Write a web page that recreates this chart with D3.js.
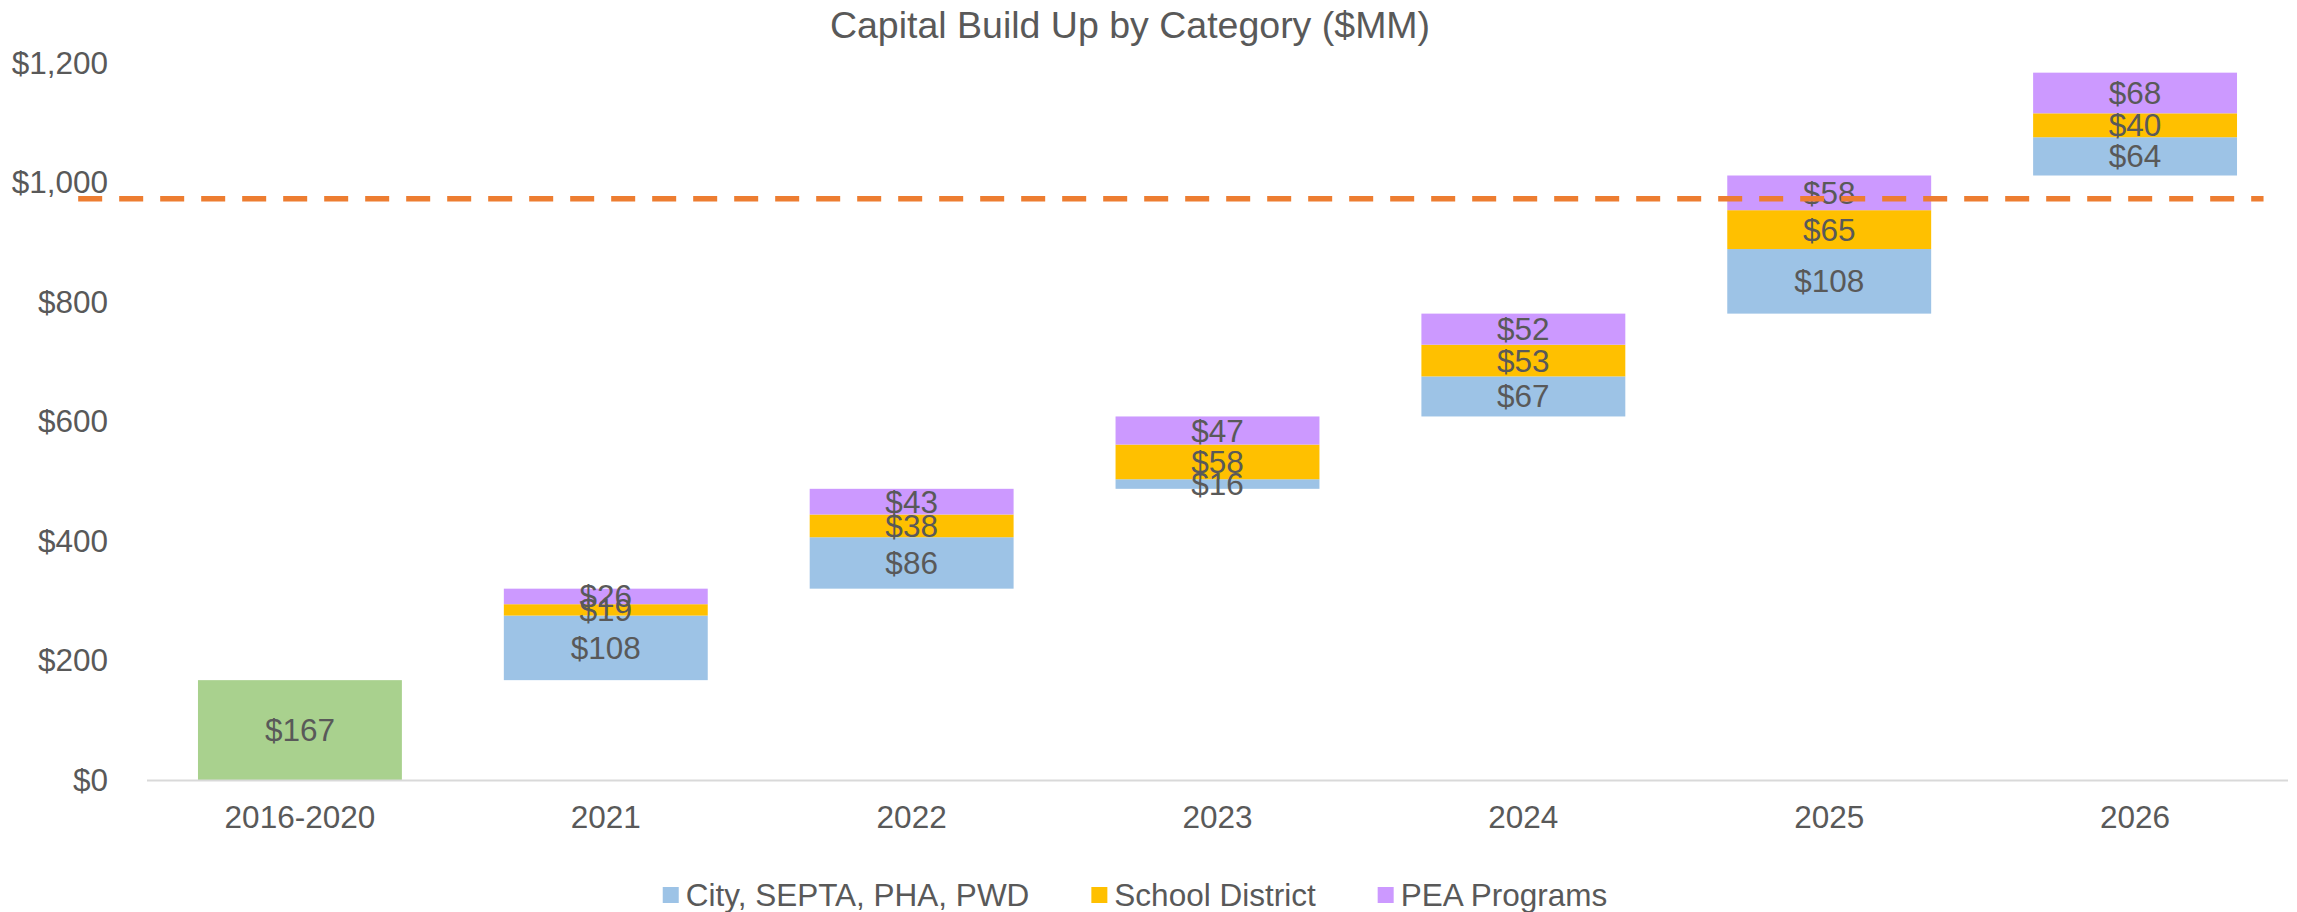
<!DOCTYPE html>
<html>
<head>
<meta charset="utf-8">
<script src="https://cdn.jsdelivr.net/npm/d3@7"></script>
<style>
  html, body { margin: 0; padding: 0; background: #fff; }
  svg text { font-family: "Liberation Sans", Arial, sans-serif; fill: #595959; }
</style>
</head>
<body>
<svg id="chart" width="2297" height="912"></svg>
<script>
// chart data ($MM)
const categories = ["2016-2020", "2021", "2022", "2023", "2024", "2025", "2026"];
const startValue = 167;               // 2016-2020 total (green bar)
const cityValues = [null, 108, 86, 16, 67, 108, 64];
const schoolValues = [null, 19, 38, 58, 53, 65, 40];
const peaValues = [null, 26, 43, 47, 52, 58, 68];
const seriesNames = ["City, SEPTA, PHA, PWD", "School District", "PEA Programs"];
const yTicks = [0, 200, 400, 600, 800, 1000, 1200];
const targetValue = 972;              // dashed reference line
const targetSpan = [-0.225, 6.92];    // in category units

const colors = ["#9DC3E6", "#FFC000", "#CC99FF"];
const startColor = "#A9D18E";

const W = 2297, H = 912;
const margin = { left: 147, right: 9, top: 62.5, bottom: 132 };
const fontSize = 31.5;

const svg = d3.select("#chart");

const x = d3.scaleBand()
    .domain(categories)
    .range([margin.left, W - margin.right])
    .paddingInner(1 / 3)
    .paddingOuter(1 / 6);

const xPos = d3.scaleLinear()
    .domain([0, categories.length])
    .range([margin.left, W - margin.right]);

const y = d3.scaleLinear()
    .domain([0, 1200])
    .range([H - margin.bottom, margin.top]);

// build floating segments
const segments = [];
let running = startValue;
segments.push({ cat: categories[0], y0: 0, y1: startValue, value: startValue, color: startColor });
categories.forEach((c, i) => {
    if (i === 0) return;
    [cityValues[i], schoolValues[i], peaValues[i]].forEach((v, k) => {
        segments.push({ cat: c, y0: running, y1: running + v, value: v, color: colors[k] });
        running += v;
    });
});

// title
svg.append("text")
    .attr("x", 1130)
    .attr("y", 38)
    .attr("text-anchor", "middle")
    .style("font-size", "37.5px")
    .text("Capital Build Up by Category ($MM)");

// y axis labels
svg.append("g")
    .selectAll("text")
    .data(yTicks)
    .join("text")
    .attr("x", 108)
    .attr("y", d => y(d))
    .attr("dy", "0.35em")
    .attr("text-anchor", "end")
    .style("font-size", fontSize + "px")
    .text(d => d3.format("$,.0f")(d));

// bars
svg.append("g")
    .selectAll("rect")
    .data(segments)
    .join("rect")
    .attr("x", d => x(d.cat))
    .attr("width", x.bandwidth())
    .attr("y", d => y(d.y1))
    .attr("height", d => y(d.y0) - y(d.y1))
    .attr("fill", d => d.color);

// x axis line
svg.append("line")
    .attr("x1", margin.left)
    .attr("x2", W - margin.right)
    .attr("y1", y(0) + 0.5)
    .attr("y2", y(0) + 0.5)
    .attr("stroke", "#D9D9D9")
    .attr("stroke-width", 2);

// x axis labels
svg.append("g")
    .selectAll("text")
    .data(categories)
    .join("text")
    .attr("x", d => x(d) + x.bandwidth() / 2)
    .attr("y", y(0) + 48)
    .attr("text-anchor", "middle")
    .style("font-size", fontSize + "px")
    .text(d => d);

// data labels
svg.append("g")
    .selectAll("text")
    .data(segments)
    .join("text")
    .attr("x", d => x(d.cat) + x.bandwidth() / 2)
    .attr("y", d => (y(d.y0) + y(d.y1)) / 2)
    .attr("dy", "0.35em")
    .attr("text-anchor", "middle")
    .style("font-size", fontSize + "px")
    .text(d => "$" + d.value);

// dashed target line
svg.append("line")
    .attr("x1", xPos(targetSpan[0]))
    .attr("x2", xPos(targetSpan[1]))
    .attr("y1", y(targetValue))
    .attr("y2", y(targetValue))
    .attr("stroke", "#ED7D31")
    .attr("stroke-width", 5.5)
    .attr("stroke-dasharray", "24,17");

// legend
const legend = svg.append("g");
let lx = 0;
seriesNames.forEach((name, i) => {
    const g = legend.append("g");
    g.append("rect")
        .attr("x", 0)
        .attr("y", -8)
        .attr("width", 16)
        .attr("height", 16)
        .attr("fill", colors[i]);
    const t = g.append("text")
        .attr("x", 23)
        .attr("dy", "0.35em")
        .style("font-size", fontSize + "px")
        .text(name);
    const w = 23 + t.node().getComputedTextLength();
    g.attr("transform", `translate(${lx},0)`);
    lx += w + 62;
});
const legendWidth = lx - 62;
legend.attr("transform", `translate(${1135 - legendWidth / 2},895)`);
</script>
</body>
</html>
